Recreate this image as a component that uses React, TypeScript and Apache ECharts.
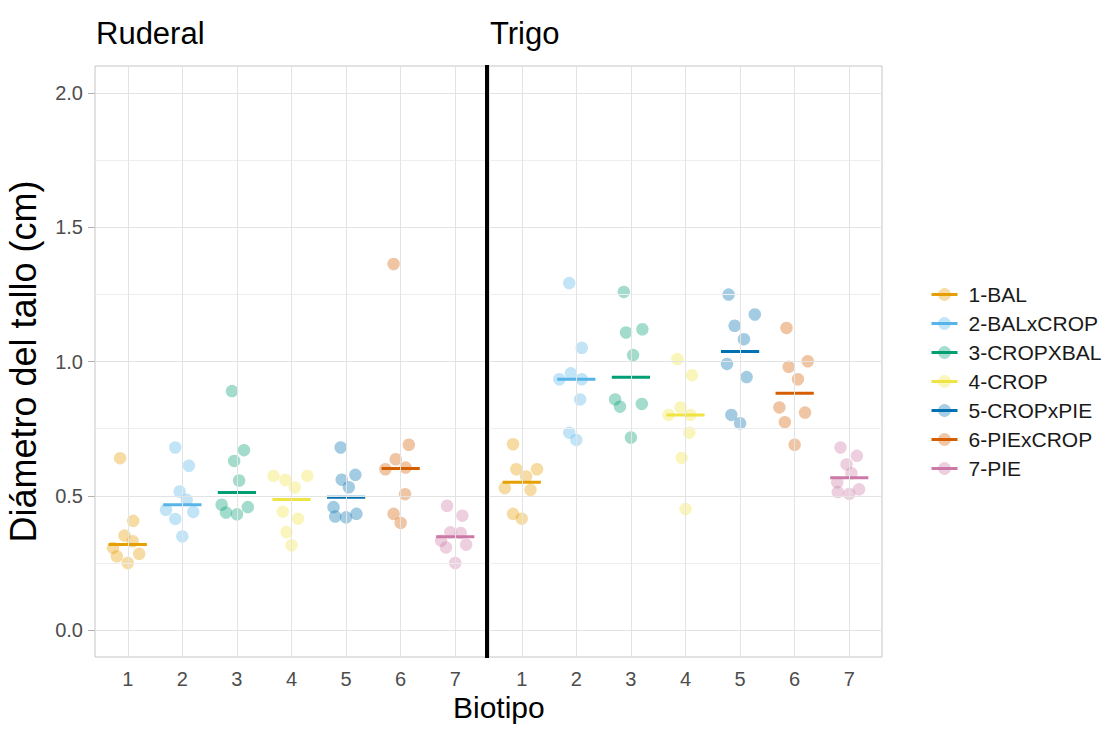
import React, { useEffect, useRef } from "react";
import * as echarts from "echarts";

const categories = [1, 2, 3, 4, 5, 6, 7];
const genotypes = ["1-BAL", "2-BALxCROP", "3-CROPXBAL", "4-CROP", "5-CROPxPIE", "6-PIExCROP", "7-PIE"];
const colors = ["#E69F00", "#56B4E9", "#009E73", "#F0E442", "#0072B2", "#D55E00", "#CC79A7"];
const panels = ["Ruderal", "Trigo"];

const yTickLabels = [0, 0.5, 1.0, 1.5, 2.0];
const yGridValues = [0, 0.25, 0.5, 0.75, 1.0, 1.25, 1.5, 1.75, 2.0];

// Ruderal: stem diameter (cm) per biotype
const ruderal1 = [0.640, 0.407, 0.352, 0.331, 0.306, 0.275, 0.284, 0.250];
const ruderal2 = [0.680, 0.612, 0.516, 0.485, 0.448, 0.440, 0.414, 0.349];
const ruderal3 = [0.890, 0.670, 0.630, 0.557, 0.467, 0.458, 0.438, 0.431];
const ruderal4 = [0.574, 0.559, 0.531, 0.574, 0.441, 0.415, 0.365, 0.316];
const ruderal5 = [0.680, 0.578, 0.560, 0.532, 0.458, 0.423, 0.420, 0.433];
const ruderal6 = [1.363, 0.690, 0.636, 0.599, 0.605, 0.506, 0.433, 0.399];
const ruderal7 = [0.463, 0.426, 0.364, 0.362, 0.333, 0.308, 0.318, 0.250];

// Ruderal: horizontal jitter (category units)
const ruderalJit1 = [-0.14, 0.10, -0.06, 0.09, -0.27, -0.20, 0.21, 0.00];
const ruderalJit2 = [-0.13, 0.12, -0.05, 0.08, -0.30, 0.20, -0.13, 0.00];
const ruderalJit3 = [-0.09, 0.13, -0.05, 0.04, -0.28, 0.20, -0.20, 0.00];
const ruderalJit4 = [-0.33, -0.11, 0.06, 0.29, -0.16, 0.12, -0.09, 0.00];
const ruderalJit5 = [-0.10, 0.17, -0.08, 0.05, -0.23, -0.20, 0.00, 0.19];
const ruderalJit6 = [-0.13, 0.15, -0.09, -0.28, 0.09, 0.08, -0.13, 0.00];
const ruderalJit7 = [-0.15, 0.13, -0.09, 0.10, -0.26, -0.17, 0.20, 0.00];

// Trigo: stem diameter (cm) per biotype
const trigo1 = [0.692, 0.599, 0.599, 0.572, 0.529, 0.522, 0.433, 0.415];
const trigo2 = [1.292, 1.051, 0.956, 0.934, 0.934, 0.859, 0.735, 0.708];
const trigo3 = [1.259, 1.120, 1.108, 1.024, 0.859, 0.832, 0.842, 0.717];
const trigo4 = [1.009, 0.949, 0.829, 0.801, 0.801, 0.735, 0.641, 0.451];
const trigo5 = [1.249, 1.175, 1.133, 1.083, 0.991, 0.942, 0.801, 0.770];
const trigo6 = [1.125, 1.001, 0.980, 0.934, 0.829, 0.810, 0.774, 0.690];
const trigo7 = [0.680, 0.649, 0.617, 0.584, 0.550, 0.514, 0.524, 0.507];

const trigoJit1 = [-0.16, -0.10, 0.28, 0.08, -0.31, 0.16, -0.16, 0.00];
const trigoJit2 = [-0.13, 0.10, -0.10, -0.31, 0.10, 0.07, -0.13, 0.00];
const trigoJit3 = [-0.13, 0.21, -0.09, 0.04, -0.29, -0.20, 0.20, 0.00];
const trigoJit4 = [-0.15, 0.12, -0.09, -0.31, 0.09, 0.07, -0.07, 0.00];
const trigoJit5 = [-0.21, 0.27, -0.10, 0.07, -0.24, 0.12, -0.16, 0.00];
const trigoJit6 = [-0.15, 0.24, -0.11, 0.06, -0.28, 0.19, -0.18, 0.00];
const trigoJit7 = [-0.16, 0.14, -0.05, 0.04, -0.22, -0.21, 0.18, 0.00];

const ruderalValues = [ruderal1, ruderal2, ruderal3, ruderal4, ruderal5, ruderal6, ruderal7];
const ruderalJitter = [ruderalJit1, ruderalJit2, ruderalJit3, ruderalJit4, ruderalJit5, ruderalJit6, ruderalJit7];
const trigoValues = [trigo1, trigo2, trigo3, trigo4, trigo5, trigo6, trigo7];
const trigoJitter = [trigoJit1, trigoJit2, trigoJit3, trigoJit4, trigoJit5, trigoJit6, trigoJit7];

const FONT = "Liberation Sans, Arial, Helvetica, sans-serif";
const HALF_WIDTH = 0.35;

function median(arr: number[]): number {
  const s = [...arr].sort((a, b) => a - b);
  const n = s.length;
  return n % 2 ? s[(n - 1) / 2] : (s[n / 2 - 1] + s[n / 2]) / 2;
}

function buildOption() {
  const grids = [
    { left: 95, top: 66, width: 393, height: 591 },
    { left: 489, top: 66, width: 393, height: 591 },
  ].map((g) => ({
    ...g,
    show: true,
    borderColor: "#c6c6c6",
    borderWidth: 1,
    backgroundColor: "#ffffff",
    containLabel: false,
  }));

  const xAxes = [0, 1].map((gi) => ({
    type: "value",
    gridIndex: gi,
    min: 0.4,
    max: 7.6,
    axisLine: { show: false },
    splitLine: { show: false },
    axisTick: {
      show: true,
      customValues: categories,
      length: 6,
      lineStyle: { color: "#b3b3b3", width: 1 },
    },
    axisLabel: {
      customValues: categories,
      fontSize: 20,
      color: "#4d4d4d",
      fontFamily: FONT,
      margin: 12,
    },
  }));

  const yAxes = [0, 1].map((gi) => ({
    type: "value",
    gridIndex: gi,
    min: -0.1,
    max: 2.1,
    axisLine: { show: false },
    splitLine: { show: false },
    name: gi === 0 ? "Diámetro del tallo (cm)" : "",
    nameLocation: "middle",
    nameGap: 54,
    nameRotate: 90,
    nameTextStyle: { fontSize: 36, color: "#000000", fontFamily: FONT },
    axisTick: {
      show: gi === 0,
      customValues: yTickLabels,
      length: 7,
      lineStyle: { color: "#b3b3b3", width: 1 },
    },
    axisLabel: {
      show: gi === 0,
      customValues: yTickLabels,
      formatter: (v: number) => v.toFixed(1),
      fontSize: 20,
      color: "#4d4d4d",
      fontFamily: FONT,
      margin: 12,
    },
  }));

  const series: any[] = [];

  // grid lines (drawn through the axes' scales)
  [0, 1].forEach((gi) => {
    series.push({
      type: "line",
      name: "_grid" + gi,
      xAxisIndex: gi,
      yAxisIndex: gi,
      data: [],
      silent: true,
      z: 1,
      markLine: {
        silent: true,
        symbol: ["none", "none"],
        label: { show: false },
        emphasis: { disabled: true },
        data: [
          ...yGridValues.map((v) => ({
            yAxis: v,
            lineStyle: { color: v % 0.5 === 0 ? "#e3e3e3" : "#eeeeee", width: 1, type: "solid" },
          })),
          ...categories.map((c) => ({
            xAxis: c,
            lineStyle: { color: "#e3e3e3", width: 1, type: "solid" },
          })),
        ],
      },
    });
  });

  const panelData = [
    { values: ruderalValues, jitter: ruderalJitter },
    { values: trigoValues, jitter: trigoJitter },
  ];

  // median segments first (legend icon takes line + symbol)
  genotypes.forEach((g, i) => {
    panelData.forEach((p, gi) => {
      const c = categories[i];
      const m = median(p.values[i]);
      series.push({
        type: "line",
        name: g,
        xAxisIndex: gi,
        yAxisIndex: gi,
        data: [
          [c - HALF_WIDTH, m],
          [c + HALF_WIDTH, m],
        ],
        showSymbol: false,
        symbol: "circle",
        symbolSize: 13,
        lineStyle: { color: colors[i], width: 3 },
        itemStyle: { color: colors[i], opacity: 0.35 },
        silent: true,
        z: 4,
      });
    });
  });

  genotypes.forEach((g, i) => {
    panelData.forEach((p, gi) => {
      const c = categories[i];
      series.push({
        type: "scatter",
        name: g,
        xAxisIndex: gi,
        yAxisIndex: gi,
        data: p.values[i].map((v, k) => [c + p.jitter[i][k], v]),
        symbol: "circle",
        symbolSize: 12.5,
        itemStyle: { color: colors[i], opacity: 0.36 },
        z: 3,
      });
    });
  });

  return {
    animation: false,
    backgroundColor: "#ffffff",
    textStyle: { fontFamily: FONT },
    title: [
      {
        text: panels[0],
        left: 91,
        top: 13,
        textStyle: { fontSize: 31, fontWeight: "normal", color: "#000000", fontFamily: FONT },
      },
      {
        text: panels[1],
        left: 485,
        top: 13,
        textStyle: { fontSize: 31, fontWeight: "normal", color: "#000000", fontFamily: FONT },
      },
      {
        text: "Biotipo",
        left: 448,
        top: 687,
        textStyle: { fontSize: 30, fontWeight: "normal", color: "#000000", fontFamily: FONT },
      },
    ],
    legend: {
      orient: "vertical",
      left: 925,
      top: 279,
      data: genotypes,
      itemWidth: 26,
      itemHeight: 16,
      itemGap: 8,
      selectedMode: false,
      textStyle: { fontSize: 21, color: "#1a1a1a", fontFamily: FONT, padding: [0, 0, 0, 6] },
      itemStyle: { opacity: 0.35, borderWidth: 0 },
      lineStyle: { width: 3, opacity: 1 },
    },
    graphic: [
      {
        type: "line",
        shape: { x1: 487, y1: 65, x2: 487, y2: 658 },
        style: { stroke: "#000000", lineWidth: 4 },
        z: 100,
      },
    ],
    grid: grids,
    xAxis: xAxes,
    yAxis: yAxes,
    series,
  };
}

export default function App() {
  const ref = useRef<HTMLDivElement>(null);
  useEffect(() => {
    if (!ref.current) return;
    const chart = echarts.init(ref.current, undefined, { renderer: "svg" });
    chart.setOption(buildOption() as any);
    return () => chart.dispose();
  }, []);
  return (
    <div
      ref={ref}
      style={{ position: "fixed", left: 0, top: 0, width: 1108, height: 729, background: "#fff" }}
    />
  );
}
